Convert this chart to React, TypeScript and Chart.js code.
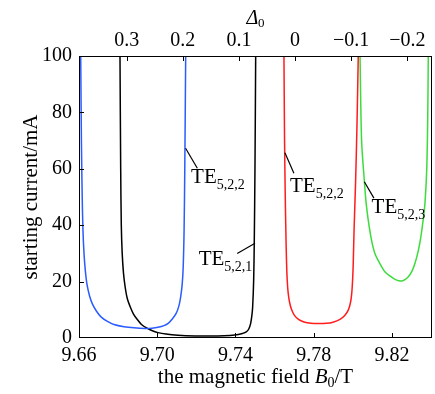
import React, { useEffect, useRef } from 'react';
import { Chart, registerables } from 'chart.js';

Chart.register(...registerables);

// Axis ticks
const xTicks = [9.66, 9.7, 9.74, 9.78, 9.82];
const deltaTicks = [0.3, 0.2, 0.1, 0, -0.1, -0.2];
const yTicks = [0, 20, 40, 60, 80, 100];

// TE5,2,2 (blue)
const blueB = [9.66087, 9.66123, 9.66164, 9.66204, 9.66256, 9.66322, 9.66409, 9.66537, 9.6669, 9.66895, 9.67125, 9.67431, 9.67789, 9.68301, 9.68812, 9.69374, 9.69732, 9.70039, 9.70346, 9.70576, 9.7078, 9.70974, 9.71112, 9.71199, 9.71276, 9.71327, 9.71373, 9.71409, 9.71455];
const blueI = [100, 70, 50, 38, 30, 24, 19, 15, 12, 9.5, 7.5, 6, 4.8, 4.0, 3.6, 3.4, 3.5, 3.8, 4.4, 5.3, 6.8, 8.8, 11.5, 14.6, 19, 25, 38, 60, 100];

// TE5,2,1 (black)
const blackB = [9.68096, 9.68132, 9.68163, 9.68209, 9.68275, 9.68362, 9.68469, 9.68623, 9.68786, 9.68991, 9.69195, 9.69476, 9.69783, 9.70039, 9.70448, 9.71061, 9.71931, 9.72748, 9.73413, 9.7396, 9.74308, 9.74553, 9.74681, 9.74778, 9.7484, 9.7488, 9.74931, 9.74962, 9.74998, 9.75034];
const blackI = [100, 60, 40, 30, 23, 18, 14, 11, 8.5, 6.5, 4.8, 3.5, 2.5, 1.9, 1.4, 1.0, 0.75, 0.7, 0.8, 1.06, 1.5, 2.2, 3.2, 5.2, 8, 11.1, 20.6, 34, 60, 100];

// TE5,2,2 (red)
const redB = [9.7648, 9.76511, 9.76547, 9.76577, 9.76608, 9.76643, 9.76695, 9.76772, 9.76874, 9.77017, 9.77222, 9.77503, 9.77861, 9.78218, 9.78663, 9.78986, 9.79343, 9.79588, 9.79768, 9.7988, 9.79947, 9.79993, 9.80023, 9.80064, 9.80141, 9.80213, 9.80279];
const redI = [100, 70, 50, 38, 28, 21, 16, 12.5, 10, 8, 6.6, 5.7, 5.2, 5.1, 5.2, 5.6, 6.6, 8, 9.9, 12.5, 15.9, 21, 26.5, 38, 55, 75, 100];

// TE5,2,3 (green)
const greenB = [9.8037, 9.8045, 9.8059, 9.8068, 9.8079, 9.8095, 9.8113, 9.8138, 9.8164, 9.819, 9.8216, 9.8235, 9.825, 9.8267, 9.8284, 9.8302, 9.8318, 9.8335, 9.8348, 9.836, 9.8369, 9.8378, 9.8383, 9.8386];
const greenI = [100, 70, 55.8, 48, 41.8, 35, 30, 26.5, 23.5, 22, 20.8, 20.3, 20.2, 20.7, 21.7, 23.6, 26.5, 31, 35.9, 42, 47.8, 59.6, 77.3, 100];

// Callout labels (data coordinates)
const callouts = [
  { main: 'TE', sub: '5,2,2', tx: 9.7173, ty: 54.9, x1: 9.7145, y1: 67.3, x2: 9.7205, y2: 60.2 },
  { main: 'TE', sub: '5,2,1', tx: 9.7212, ty: 25.9, x1: 9.75, y1: 33.6, x2: 9.7409, y2: 30.0 },
  { main: 'TE', sub: '5,2,2', tx: 9.7679, ty: 51.9, x1: 9.7653, y1: 65.7, x2: 9.7699, y2: 58.4 },
  { main: 'TE', sub: '5,2,3', tx: 9.8096, ty: 44.2, x1: 9.8059, y1: 55.4, x2: 9.8108, y2: 49.6 },
];

const FONT = 'Liberation Serif, Times New Roman, serif';

const toPoints = (xs: number[], ys: number[]) => xs.map((x, i) => ({ x, y: ys[i] }));

type Part = { text: string; italic?: boolean; sub?: boolean };

function drawRich(ctx: CanvasRenderingContext2D, parts: Part[], x: number, y: number, size: number, subSize: number, subDrop: number, align: 'left' | 'center') {
  const fontOf = (p: Part) => `${p.italic ? 'italic ' : ''}${p.sub ? subSize : size}px ${FONT}`;
  let total = 0;
  for (const p of parts) {
    ctx.font = fontOf(p);
    total += ctx.measureText(p.text).width;
  }
  let cx = align === 'center' ? x - total / 2 : x;
  ctx.textAlign = 'left';
  ctx.textBaseline = 'alphabetic';
  for (const p of parts) {
    ctx.font = fontOf(p);
    ctx.fillText(p.text, cx, p.sub ? y + subDrop : y);
    cx += ctx.measureText(p.text).width;
  }
}

const decorPlugin = {
  id: 'decor',
  afterDatasetsDraw(chart: any) {
    const { ctx, chartArea: a, scales } = chart;
    const xs = scales.x, x2 = scales.x2, ys = scales.y;
    ctx.save();
    ctx.strokeStyle = '#000';
    ctx.lineWidth = 1;
    ctx.strokeRect(a.left + 0.5, a.top + 0.5, a.right - a.left - 1, a.bottom - a.top - 1);
    const L = 5;
    ctx.beginPath();
    for (const v of xTicks) {
      const px = Math.round(xs.getPixelForValue(v)) + 0.5;
      if (px <= a.left + 2 || px >= a.right - 2) continue;
      ctx.moveTo(px, a.bottom);
      ctx.lineTo(px, a.bottom - L);
    }
    for (const v of deltaTicks) {
      const px = Math.round(x2.getPixelForValue(v)) + 0.5;
      if (px <= a.left + 2 || px >= a.right - 2) continue;
      ctx.moveTo(px, a.top);
      ctx.lineTo(px, a.top + L);
    }
    for (const v of yTicks) {
      const py = Math.round(ys.getPixelForValue(v)) + 0.5;
      if (py <= a.top + 2 || py >= a.bottom - 2) continue;
      ctx.moveTo(a.left, py);
      ctx.lineTo(a.left + L, py);
    }
    ctx.stroke();

    // callouts
    ctx.fillStyle = '#000';
    ctx.lineWidth = 1.2;
    for (const c of callouts) {
      ctx.beginPath();
      ctx.moveTo(xs.getPixelForValue(c.x1), ys.getPixelForValue(c.y1));
      ctx.lineTo(xs.getPixelForValue(c.x2), ys.getPixelForValue(c.y2));
      ctx.stroke();
      drawRich(ctx, [{ text: c.main }, { text: c.sub, sub: true }], xs.getPixelForValue(c.tx), ys.getPixelForValue(c.ty), 21, 14, 6, 'left');
    }

    // axis titles
    const midX = (a.left + a.right) / 2;
    drawRich(ctx, [{ text: 'the magnetic field ' }, { text: 'B', italic: true }, { text: '0', sub: true }, { text: '/T' }], midX, a.bottom + 45, 21, 14, 4, 'center');
    drawRich(ctx, [{ text: '\u0394', italic: true }, { text: '0', sub: true }], midX, 24, 20, 13, 3, 'center');

    ctx.save();
    ctx.translate(37, (a.top + a.bottom) / 2);
    ctx.rotate(-Math.PI / 2);
    ctx.font = `21px ${FONT}`;
    ctx.textAlign = 'center';
    ctx.textBaseline = 'alphabetic';
    ctx.fillText('starting current/mA', 0, 0);
    ctx.restore();

    ctx.restore();
  },
};

export default function App() {
  const ref = useRef<HTMLCanvasElement | null>(null);
  useEffect(() => {
    if (!ref.current) return;
    const tickFont = { family: FONT, size: 20 };
    const chart = new Chart(ref.current, {
      type: 'line',
      data: {
        datasets: [
          { data: toPoints(blueB, blueI), borderColor: '#2a5cff' },
          { data: toPoints(blackB, blackI), borderColor: '#000000' },
          { data: toPoints(redB, redI), borderColor: '#ff1c1c' },
          { data: toPoints(greenB, greenI), borderColor: '#3ddc3d' },
        ] as any,
      },
      options: {
        animation: false,
        responsive: false,
        maintainAspectRatio: false,
        layout: { padding: { left: 0, right: 3, top: 0, bottom: 0 } },
        plugins: { legend: { display: false }, tooltip: { enabled: false } },
        elements: {
          point: { radius: 0 },
          line: { borderWidth: 1.5, tension: 0.3, cubicInterpolationMode: 'default', fill: false, capBezierPoints: true },
        },
        scales: {
          x: {
            type: 'linear',
            position: 'bottom',
            min: 9.66,
            max: 9.8405,
            afterBuildTicks: (s: any) => { s.ticks = xTicks.map((v) => ({ value: v })); },
            afterFit: (s: any) => { s.height = 56; },
            grid: { display: false, drawTicks: false },
            border: { display: false },
            ticks: { color: '#000', font: tickFont, padding: 6, maxRotation: 0, autoSkip: false, callback: (v: any) => Number(v).toFixed(2) },
          },
          x2: {
            type: 'linear',
            position: 'top',
            reverse: true,
            min: -0.244,
            max: 0.385,
            afterBuildTicks: (s: any) => { s.ticks = deltaTicks.map((v) => ({ value: v })); },
            afterFit: (s: any) => { s.height = 56; },
            grid: { display: false, drawTicks: false },
            border: { display: false },
            ticks: {
              color: '#000', font: tickFont, padding: 3, maxRotation: 0, autoSkip: false,
              callback: (v: any) => { const n = Number(v); if (Math.abs(n) < 1e-9) return '0'; return (n < 0 ? '\u2212' : '') + Math.abs(n).toFixed(1); },
            },
          },
          y: {
            type: 'linear',
            position: 'left',
            min: 0,
            max: 100,
            afterBuildTicks: (s: any) => { s.ticks = yTicks.map((v) => ({ value: v })); },
            afterFit: (s: any) => { s.width = 79; },
            grid: { display: false, drawTicks: false },
            border: { display: false },
            ticks: { color: '#000', font: tickFont, padding: 7, autoSkip: false, callback: (v: any) => String(v) },
          },
        },
      } as any,
      plugins: [decorPlugin],
    });
    return () => chart.destroy();
  }, []);
  return (
    <div style={{ position: 'fixed', left: 0, top: 0, width: 435, height: 394, background: '#fff' }}>
      <canvas ref={ref} width={435} height={394} style={{ display: 'block' }} />
    </div>
  );
}
